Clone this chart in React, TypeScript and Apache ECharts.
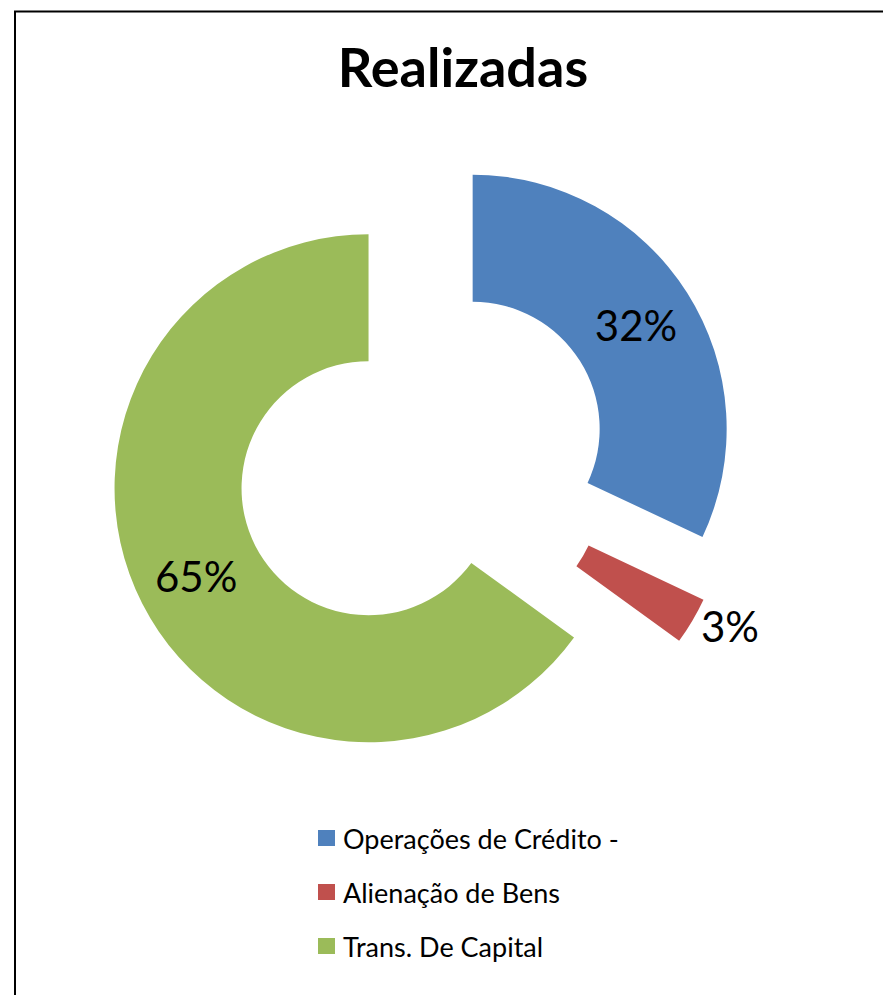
import React, { useEffect, useRef } from "react";
import * as echarts from "echarts";

const categories = ["Operações de Crédito -", "Alienação de Bens", "Trans. De Capital"];
const values = [32, 3, 65];
const colors = ["#4F81BD", "#C0504D", "#9BBB59"];
const titleText = "Realizadas";

export default function App() {
  const ref = useRef<HTMLDivElement>(null);
  useEffect(() => {
    const chart = echarts.init(ref.current!, undefined, { renderer: "svg" });
    const font = "Lato, 'Open Sans', sans-serif";
    chart.setOption({
      animation: false,
      backgroundColor: "#ffffff",
      title: {
        text: titleText,
        left: 458,
        top: 34,
        textAlign: "center",
        textStyle: { fontFamily: font, fontWeight: "bold", fontSize: 54, color: "#000" },
      },
      legend: {
        orient: "vertical",
        left: 313,
        top: 818,
        icon: "rect",
        itemWidth: 17,
        itemHeight: 16,
        itemGap: 24,
        selectedMode: false,
        data: categories,
        textStyle: { fontFamily: font, fontSize: 27, color: "#000", lineHeight: 30, padding: [0, 0, 0, 3] },
      },
      graphic: [
        {
          type: "rect",
          shape: { x: 15, y: 11.5, width: 1000, height: 1100 },
          style: { fill: "none", stroke: "#000", lineWidth: 2 },
          silent: true,
        },
      ],
      series: [
        {
          type: "pie",
          center: [422, 461],
          radius: [127, 254],
          startAngle: 90,
          clockwise: true,
          selectedMode: "multiple",
          selectedOffset: 60,
          percentPrecision: 0,
          avoidLabelOverlap: false,
          emphasis: { disabled: true },
          select: { disabled: false, itemStyle: {}, label: {} },
          label: {
            show: true,
            position: "inside",
            formatter: "{d}%",
            fontFamily: font,
            fontSize: 42,
            color: "#000",
          },
          labelLine: { show: false },
          data: categories.map((name, i) => ({
            name,
            value: values[i],
            selected: true,
            itemStyle: { color: colors[i] },
            ...(i === 1
              ? {
                  label: { position: "outside", distanceToLabelLine: 0 },
                  labelLine: { show: false, length: 10, length2: 0 },
                }
              : {}),
          })),
        },
      ],
    });
    return () => chart.dispose();
  }, []);
  return (
    <div
      ref={ref}
      style={{ position: "fixed", left: 0, top: 0, width: 883, height: 995 }}
    />
  );
}
